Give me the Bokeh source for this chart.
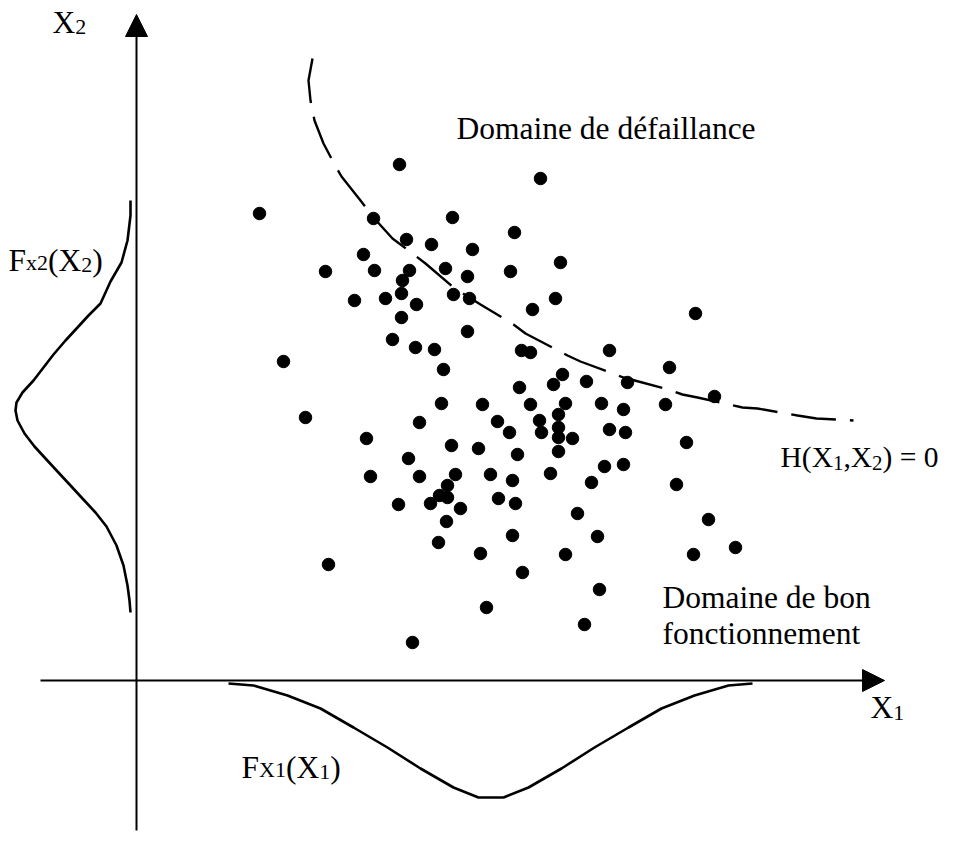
from bokeh.plotting import figure
from bokeh.models import Range1d, Arrow, NormalHead
from bokeh.core.properties import value
from bokeh.embed import file_html
from bokeh.resources import INLINE

# ---- data (origin at the intersection of the two axes) ----
sample_x1 = [263, 123, 237, 316, 270, 295, 336, 227, 189, 238, 273, 309, 331, 266, 265, 249,
             218, 280, 317, 333, 265, 331, 256, 279, 298, 307, 147, 404, 378, 424, 374, 419,
             396, 559, 385, 394, 473, 533, 426, 417, 450, 491, 383, 305, 346, 361, 169, 283,
             230, 315, 342, 272, 234, 283, 319, 354, 311, 303, 311, 294, 262, 324, 362, 310,
             302, 344, 192, 350, 276, 578, 394, 429, 465, 487, 529, 403, 422, 373, 405, 422,
             422, 436, 473, 489, 381, 422, 550, 376, 414, 468, 487, 455, 540, 379, 441, 572,
             376, 461, 429, 557, 599, 386, 463, 448]
sample_x2 = [516, 467, 462, 463, 441, 436, 431, 426, 409, 410, 410, 412, 404, 400, 387, 382,
             380, 376, 386, 382, 363, 349, 341, 333, 331, 311, 319, 502, 448, 418, 409, 382,
             371, 367, 330, 328, 330, 313, 306, 296, 299, 298, 293, 277, 276, 259, 263, 258,
             242, 235, 232, 222, 204, 204, 206, 206, 195, 185, 183, 177, 176, 172, 182, 159,
             138, 127, 116, 73, 38, 284, 276, 277, 277, 271, 276, 260, 266, 248, 248, 253,
             243, 242, 251, 248, 226, 229, 238, 200, 207, 214, 216, 198, 196, 177, 167, 161,
             145, 144, 126, 126, 133, 108, 91, 56]

# limit state curve H(X1, X2) = 0
limit_x1 = [176, 172, 174, 178, 187, 197, 205, 224, 237, 256, 276, 289, 317, 344, 364, 377,
            389, 431, 444, 487, 502, 532, 546, 561, 606, 621, 661, 680, 717]
limit_x2 = [622, 600, 580, 560, 537, 518, 504, 480, 463, 442, 427, 417, 393, 376, 364, 356,
            347, 325, 319, 303, 299, 291, 286, 283, 273, 272, 265, 262, 260]

# density of X1 (drawn below the X1 axis)
pdf1_x1 = [92, 117, 151, 184, 217, 251, 284, 317, 342, 367, 392, 425, 458, 492, 525, 558, 592, 616]
pdf1_f = [-3, -5, -15, -28, -47, -67, -88, -107, -117, -117, -107, -88, -67, -47, -28, -15, -5, -3]

# density of X2 (drawn left of the X2 axis)
pdf2_x2 = [480, 465, 440, 418, 399, 388, 377, 365, 353, 340, 326, 313, 300, 288, 278, 270,
           260, 247, 234, 222, 209, 195, 182, 168, 154, 135, 115, 95, 80, 68]
pdf2_f = [-6, -6, -9, -15, -26, -31, -36, -48, -59, -71, -83, -93, -103, -114, -120, -121,
          -119, -112, -102, -91, -79, -66, -54, -41, -30, -20, -13, -9, -7, -6]

# axis extents
x1_axis = (-96, 748)
x2_axis = (-150, 666)

FONT = "Liberation Serif"
MAIN, SUB = 31.5, 22
LIFT = 10  # baseline correction

p = figure(width=949, height=834, x_range=Range1d(-136, 813), y_range=Range1d(-154, 680),
           output_backend="svg", toolbar_location=None, min_border=0,
           x_axis_type=None, y_axis_type=None)
p.grid.visible = False
p.outline_line_color = None
p.background_fill_color = "white"
p.border_fill_color = "white"

# axes with arrow heads
p.add_layout(Arrow(end=NormalHead(size=22, fill_color="black", line_color="black"),
                   x_start=x1_axis[0], y_start=0, x_end=x1_axis[1], y_end=0,
                   line_width=2, line_color="black"))
p.add_layout(Arrow(end=NormalHead(size=22, fill_color="black", line_color="black"),
                   x_start=0, y_start=x2_axis[0], x_end=0, y_end=x2_axis[1],
                   line_width=2, line_color="black"))

# densities
p.line(pdf1_x1, pdf1_f, line_width=2.6, line_color="black")
p.line(pdf2_f, pdf2_x2, line_width=2.6, line_color="black")

# limit state curve
p.line(limit_x1, limit_x2, line_width=2.4, line_color="black", line_dash="45 14")

# samples
p.scatter(sample_x1, sample_x2, size=12.5, color="black")

# text helpers
W = {"X": 722, "F": 556, "x": 500, "(": 333, ")": 333, "1": 500, "2": 500, "H": 722,
     ",": 250, " ": 250, "=": 564, "0": 500}


def rich(x0, y0, pieces):
    x = x0
    for s, size, dy in pieces:
        p.text(x=[x], y=[y0 + LIFT - dy], text=[s], text_font=value(FONT),
               text_font_size=f"{size}px", text_baseline="alphabetic",
               text_align="left", text_color="black")
        x += sum(W.get(c, 500) for c in s) * size / 1000.0


def plain(x0, y0, s):
    p.text(x=[x0], y=[y0 + LIFT], text=[s], text_font=value(FONT), text_font_size=f"{MAIN}px",
           text_baseline="alphabetic", text_align="left", text_color="black")


plain(320, 542, "Domaine de défaillance")
plain(526, 73, "Domaine de bon")
plain(526, 37, "fonctionnement")
HS, HSUB = 29.5, 21
rich(644, 214, [("H(X", HS, 0), ("1", HSUB, 6), (",X", HS, 0), ("2", HSUB, 6), (") = 0", HS, 0)])
rich(734, -37, [("X", MAIN, 0), ("1", SUB, 5)])
rich(-84, 648, [("X", MAIN, 0), ("2", SUB, 4)])
rich(-128, 410, [("F", MAIN, 0), ("x2", SUB, 2), ("(X", MAIN, 0), ("2", SUB, 4), (")", MAIN, 0)])
rich(105, -97, [("F", MAIN, 0), ("X1", SUB, 2), ("(X", MAIN, 0), ("1", SUB, 4), (")", MAIN, 0)])

open("out.html", "w").write(file_html(p, INLINE))
